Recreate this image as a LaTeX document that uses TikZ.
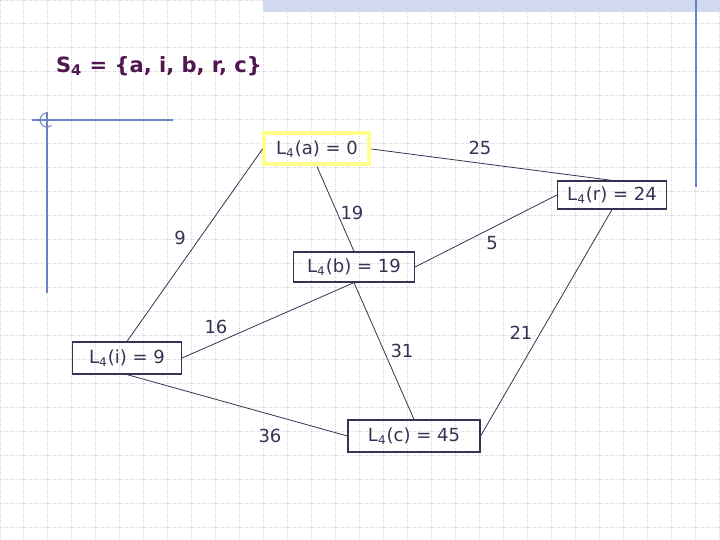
\documentclass[tikz,border=0pt]{standalone}
\usepackage{fontspec}
\setmainfont{DejaVu Sans}
\definecolor{inkcol}{RGB}{51,51,85}
\definecolor{titlecol}{RGB}{80,22,80}
\definecolor{rulecol}{RGB}{110,130,195}
\definecolor{barcol}{RGB}{208,217,240}
\definecolor{hilite}{RGB}{255,255,140}
\definecolor{gridcol}{RGB}{210,210,215}

\begin{document}
\begin{tikzpicture}[x=0.5pt,y=-0.5pt,
    lbox/.style={draw=inkcol, line width=0.6pt, text=inkcol, inner sep=0pt,
        font=\fontsize{9}{11}\selectfont},
    cost/.style={text=inkcol, inner sep=1pt, font=\fontsize{9}{11}\selectfont},
    edge/.style={draw=inkcol, line width=0.4pt}]
    \useasboundingbox (0,0) rectangle (720,540);

    % Background: dotted grid, top bar and rules
    \fill[white] (0,0) rectangle (720,540);
    \draw[gridcol, line width=0.5pt, dash pattern=on 0.5pt off 0.7pt, step=12pt] (0,0) grid (720,540);
    \fill[barcol] (263,0) rectangle (720,12);
    \draw[rulecol, line width=0.6pt] (696,0) -- (696,187);
    \draw[rulecol, line width=0.6pt] (32,120) -- (173,120);
    \draw[rulecol, line width=0.6pt] (47,112) -- (47,293);
    \draw[rulecol, line width=0.5pt] (48.2,113.1) arc (-80:-310:7);

    % Title
    \node[text=titlecol, font=\fontsize{10.5}{13}\selectfont\bfseries, anchor=west] (title) at (49,66)
        {S\textsubscript{4} = \{a, i, b, r, c\}};

    % Labels of the vertices
    \node[lbox, draw=hilite, line width=2pt, minimum width=52.5pt, minimum height=15.5pt] (a) at (317,149) {L\textsubscript{4}(a) = 0};
    \node[lbox, minimum width=54.5pt, minimum height=14pt] (r) at (612,195) {L\textsubscript{4}(r) = 24};
    \node[lbox, minimum width=60.5pt, minimum height=15pt] (b) at (354,267) {L\textsubscript{4}(b) = 19};
    \node[lbox, minimum width=54.5pt, minimum height=16pt] (i) at (127,358) {L\textsubscript{4}(i) = 9};
    \node[lbox, minimum width=66pt, minimum height=16pt] (c) at (414,436) {L\textsubscript{4}(c) = 45};

    % Edges
    \draw[edge] (a.west) -- (i.north);
    \draw[edge] (a.south) -- (b.north);
    \draw[edge] (a.east) -- (r.north);
    \draw[edge] (r.west) -- (b.east);
    \draw[edge] (r.south) -- (c.east);
    \draw[edge] (b.south) -- (i.east);
    \draw[edge] (b.south) -- (c.north);
    \draw[edge] (i.south) -- (c.west);

    % Edge weights
    \node[cost] (w25) at (480,148) {25};
    \node[cost] (w19) at (352,213) {19};
    \node[cost] (w9) at (180,238) {9};
    \node[cost] (w5) at (492,243) {5};
    \node[cost] (w16) at (216,327) {16};
    \node[cost] (w31) at (402,351) {31};
    \node[cost] (w21) at (521,333) {21};
    \node[cost] (w36) at (270,436) {36};
\end{tikzpicture}
\end{document}
